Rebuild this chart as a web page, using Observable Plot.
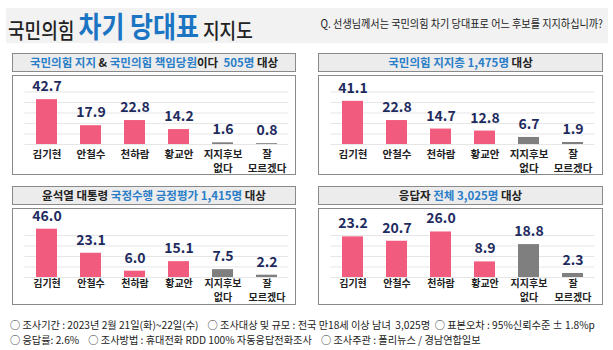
<!DOCTYPE html>
<html><head><meta charset="utf-8">
<script src="https://cdn.jsdelivr.net/npm/d3@7"></script>
<script src="https://cdn.jsdelivr.net/npm/@observablehq/plot@0.6"></script>
<style>
  html, body { margin:0; padding:0; background:#fff; }
  body { width:613px; height:350px; position:relative; overflow:hidden; font-family:"Noto Sans CJK KR","Noto Sans",sans-serif; }
  .band { position:absolute; left:6px; top:8px; width:602px; height:35px; background:#f2f2f2; }
  .title { position:absolute; left:8px; top:4px; white-space:nowrap; transform-origin:left center; transform:scaleX(0.86); }
  .title .s { font-size:21px; font-weight:500; color:#222; }
  .title .b { font-size:29px; font-weight:700; color:#1b75c2; }
  .q { position:absolute; right:10px; top:15px; font-size:11.5px; color:#222; white-space:nowrap; transform-origin:right center; transform:scaleX(0.88); }
  .hdr { position:absolute; box-sizing:border-box; height:19px; background:#ececec; border:1.3px solid #8a8a8a; text-align:center; font-size:11.5px; font-weight:700; line-height:16px; color:#222; white-space:nowrap; }
  .hdr .bl { color:#2a7ec8; }
  .box { position:absolute; box-sizing:border-box; border:1.3px solid #8a8a8a; background:transparent; pointer-events:none; }
  .plotwrap { position:absolute; }
  .foot { position:absolute; left:10px; font-size:10.2px; color:#222; white-space:nowrap; }
</style>
</head><body>
<div class="band"></div>
<div class="title"><span class="s">국민의힘 </span><span class="b">차기 당대표</span><span class="s"> 지지도</span></div>
<div class="q">Q. 선생님께서는 국민의힘 차기 당대표로 어느 후보를 지지하십니까?</div>

<div class="hdr" style="left:12px;top:53px;width:284px;"><span class="bl">국민의힘 지지</span> &amp; <span class="bl">국민의힘 책임당원</span>이다 &nbsp;<span class="bl">505명</span> 대상</div>
<div class="hdr" style="left:318px;top:53px;width:285px;"><span class="bl">국민의힘 지지층 1,475명</span> 대상</div>
<div class="hdr" style="left:12px;top:186px;width:284px;">윤석열 대통령 <span class="bl">국정수행 긍정평가 1,415명</span> 대상</div>
<div class="hdr" style="left:318px;top:186px;width:285px;">응답자 <span class="bl">전체 3,025명</span> 대상</div>

<div id="p1" class="plotwrap" style="left:12px;top:75px;"></div>
<div id="p2" class="plotwrap" style="left:318px;top:75px;"></div>
<div id="p3" class="plotwrap" style="left:12px;top:208px;"></div>
<div id="p4" class="plotwrap" style="left:318px;top:208px;"></div>
<div class="box" style="left:12px;top:75px;width:284px;height:100px;"></div>
<div class="box" style="left:318px;top:75px;width:285px;height:100px;"></div>
<div class="box" style="left:12px;top:208px;width:284px;height:97px;"></div>
<div class="box" style="left:318px;top:208px;width:285px;height:97px;"></div>

<div class="foot" style="top:317px;">○ 조사기간 : 2023년 2월 21일(화)~22일(수) &nbsp;&nbsp; ○ 조사대상 및 규모 : 전국 만18세 이상 남녀 &nbsp;3,025명 &nbsp;○ 표본오차 : 95%신뢰수준 ± 1.8%p</div>
<div class="foot" style="top:332px;">○ 응답률: 2.6% &nbsp;&nbsp; ○ 조사방법 : 휴대전화 RDD 100% 자동응답전화조사 &nbsp;&nbsp; ○ 조사주관 : 폴리뉴스 / 경남연합일보</div>

<script>
// ---- data ----
const categories = ["김기현", "안철수", "천하람", "황교안", "지지후보\n없다", "잘\n모르겠다"];
const kinds = ["후보", "후보", "후보", "후보", "기타", "기타"];
const partyMembers = [42.7, 17.9, 22.8, 14.2, 1.6, 0.8];      // 국민의힘 지지 & 책임당원 505명
const partySupporters = [41.1, 22.8, 14.7, 12.8, 6.7, 1.9];   // 국민의힘 지지층 1,475명
const yoonApprovers = [46.0, 23.1, 6.0, 15.1, 7.5, 2.2];      // 국정수행 긍정평가 1,415명
const allRespondents = [23.2, 20.7, 26.0, 8.9, 18.8, 2.3];    // 응답자 전체 3,025명
const gridA = [0, 10, 20, 30, 40, 50];
const gridB = [0, 10, 20, 30, 40];
const gridC = [0, 6, 12, 18, 24];

const pink = "#f15b7d";
const gray = "#7f7f7f";
const navy = "#1e2b5e";

function panel(values, opts) {
  const data = categories.map((c, i) => ({category: c, value: values[i], kind: kinds[i]}));
  return Plot.plot({
    width: opts.width,
    height: opts.height,
    marginTop: 0,
    marginBottom: opts.marginBottom,
    marginLeft: 12.5,
    marginRight: opts.width - 276.5,
    style: {fontFamily: '"Noto Sans CJK KR", sans-serif', background: "transparent", overflow: "visible"},
    x: {domain: categories, paddingInner: 0.52, paddingOuter: 0.26},
    y: {domain: [0, opts.yMax], axis: null},
    color: {domain: ["후보", "기타"], range: [pink, gray]},
    marks: [
      Plot.ruleY(opts.grid, {stroke: "#e6e6e6", strokeWidth: 1}),
      Plot.barY(data, {x: "category", y: "value", fill: "kind"}),
      Plot.text(data, {x: "category", y: "value", text: d => d.value.toFixed(1), dy: -13,
        fontSize: 14, fontWeight: 700, fill: navy}),
      Plot.axisX({tickSize: 0, tickPadding: opts.tickPadding, label: null, fontSize: opts.labelSize, fontWeight: 700,
        fill: "#222", lineHeight: opts.lineHeight})
    ]
  });
}

document.getElementById("p1").append(panel(partyMembers, {width: 284, height: 100, marginBottom: 31, yMax: 65.7, grid: gridA, tickPadding: 4, labelSize: 10.5, lineHeight: 1.3}));
document.getElementById("p2").append(panel(partySupporters, {width: 285, height: 100, marginBottom: 31, yMax: 65.7, grid: gridA, tickPadding: 4, labelSize: 10.5, lineHeight: 1.3}));
document.getElementById("p3").append(panel(yoonApprovers, {width: 284, height: 97, marginBottom: 28, yMax: 65.7, grid: gridB, tickPadding: 0, labelSize: 10, lineHeight: 1.4}));
document.getElementById("p4").append(panel(allRespondents, {width: 285, height: 97, marginBottom: 28, yMax: 39.4, grid: gridC, tickPadding: 0, labelSize: 10, lineHeight: 1.4}));
</script>
</body></html>
